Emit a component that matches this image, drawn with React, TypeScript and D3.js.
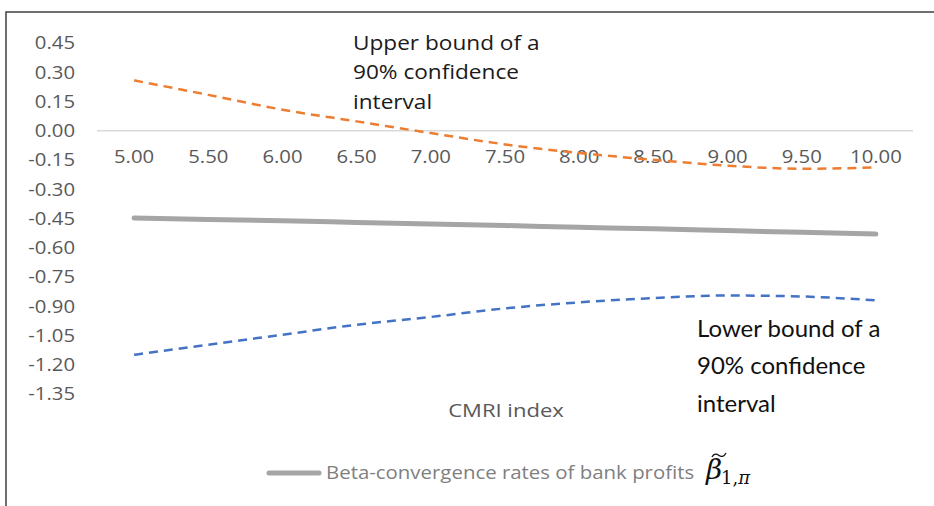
import React from "react";
import * as d3 from "d3";

const categories = ["5.00","5.50","6.00","6.50","7.00","7.50","8.00","8.50","9.00","9.50","10.00"];
const betaRates = [-0.448,-0.455,-0.462,-0.470,-0.478,-0.486,-0.495,-0.503,-0.512,-0.521,-0.530];
const upperBound = [0.258,0.184,0.108,0.048,-0.012,-0.070,-0.114,-0.149,-0.179,-0.195,-0.188];
const lowerBound = [-1.149,-1.097,-1.046,-0.995,-0.955,-0.911,-0.880,-0.858,-0.845,-0.850,-0.870];
const yTicks = [0.45,0.30,0.15,0.00,-0.15,-0.30,-0.45,-0.60,-0.75,-0.90,-1.05,-1.20,-1.35];
const upperLabel = ["Upper bound of a","90% confidence","interval"];
const lowerLabel = ["Lower bound of a","90% confidence","interval"];
const axisTitle = "CMRI index";
const legendLabel = "Beta-convergence rates of bank profits";

const W = 934, H = 506;
const SX = 1.16;

function SText(props: {x:number;y:number;anchor?:string;size:number;fill:string;children:any;family?:string;weight?:number}) {
  const { x, y, anchor = "start", size, fill, children, family = "'Open Sans', sans-serif", weight = 400 } = props;
  return (
    <text transform={`translate(${x},${y}) scale(${SX},1)`} textAnchor={anchor} dominantBaseline="central"
      fontSize={size} fill={fill} fontFamily={family} fontWeight={weight}>{children}</text>
  );
}

export default function App() {
  const x = d3.scaleBand().domain(categories).range([97, 913]);
  const cx = (c: string) => (x(c) as number) + x.bandwidth() / 2;
  const y = d3.scaleLinear().domain([-1.35, 0.45]).range([394, 43]);
  const line = d3.line<number>().x((_, i) => cx(categories[i])).y(d => y(d)).curve(d3.curveMonotoneX);
  const fmt = (v: number) => d3.format(".2f")(v).replace("\u2212", "-");
  const tickColor = "#595959";
  const bx = 706;
  const tx = bx + 6, ty = 455;
  return (
    <svg width={W} height={H} style={{ position: "absolute", left: 0, top: 0, background: "#fff" }}>
      <rect x={0} y={0} width={W} height={H} fill="#fff" />
      <path d={`M6,${H + 5} L6,12 L${W + 5},12`} fill="none" stroke="#404040" strokeWidth={1.5} />
      {yTicks.map(t => (
        <SText key={t} x={75} y={y(t)} anchor="end" size={17.5} fill={tickColor}>{fmt(t)}</SText>
      ))}
      <line x1={97} x2={913} y1={y(0)} y2={y(0)} stroke="#d9d9d9" strokeWidth={1.5} />
      {categories.map(c => (
        <SText key={c} x={cx(c)} y={y(0) + 26} anchor="middle" size={17.5} fill={tickColor}>{c}</SText>
      ))}
      <path d={line(betaRates) || ""} fill="none" stroke="#a5a5a5" strokeWidth={5} strokeLinecap="round" />
      <path d={line(upperBound) || ""} fill="none" stroke="#ed7d31" strokeWidth={2.5} strokeDasharray="9,6" />
      <path d={line(lowerBound) || ""} fill="none" stroke="#4472c4" strokeWidth={2.5} strokeDasharray="9,6" />
      {upperLabel.map((s, i) => (
        <SText key={s} x={353} y={42 + i * 29.5} size={19.5} fill="#1a1a1a">{s}</SText>
      ))}
      {lowerLabel.map((s, i) => (
        <text key={s} x={697} y={327 + i * 37.5} dominantBaseline="central" fontSize={24}
          fontFamily="Lato, sans-serif" fill="#111">{s}</text>
      ))}
      <SText x={506} y={410} anchor="middle" size={19} fill={tickColor}>{axisTitle}</SText>
      <line x1={269} x2={319} y1={473} y2={473} stroke="#a5a5a5" strokeWidth={5} strokeLinecap="round" />
      <SText x={326} y={473} size={17.6} fill="#7f7f7f">{legendLabel}</SText>
      <text x={bx} y={479} fontSize={28} fontStyle="italic" fontFamily="'DejaVu Serif', serif" fill="#111">β</text>
      <path d={`M${tx},${ty + 2} C${tx + 2},${ty - 2} ${tx + 5},${ty - 1} ${tx + 7},${ty + 0.5} C${tx + 9},${ty + 2} ${tx + 12},${ty + 2} ${tx + 14},${ty - 2}`}
        fill="none" stroke="#111" strokeWidth={1.3} />
      <text x={bx + 15} y={484} fontSize={18} fontFamily="'DejaVu Serif', serif" fill="#111">1,<tspan fontStyle="italic">π</tspan></text>
    </svg>
  );
}
